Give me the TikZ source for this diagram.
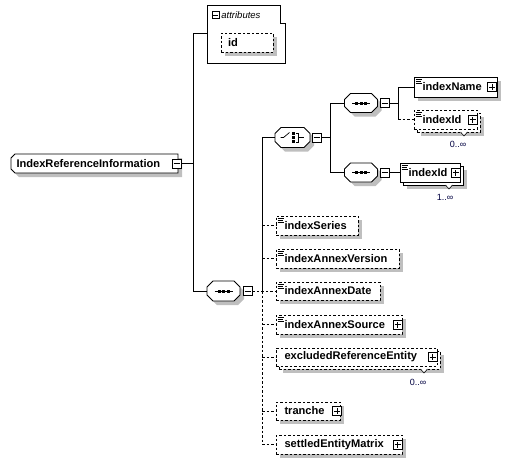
\documentclass[tikz,border=0pt]{standalone}
\usepackage{fontspec}
\setmainfont{Liberation Sans}
\usetikzlibrary{shadows}
\newcommand\XBox[6]{\node[box,#6,minimum width={#4-#2},minimum height={#5-#3}] (#1) at ({(#2+#4)/2},{(#3+#5)/2}) {};}
\newcommand\XOctPath[6]{(#1+#5,#2) -- (#3-#6,#2) -- (#3,#2+#6) -- (#3,#4-#6) -- (#3-#6,#4) -- (#1+#5,#4) -- (#1,#4-#5) -- (#1,#2+#5) -- cycle}
\newcommand\XOct[7]{%
  \fill[black!25,shift={(4,4)}] \XOctPath{#2}{#3}{#4}{#5}{#6}{#7};
  \filldraw[fill=white] \XOctPath{#2}{#3}{#4}{#5}{#6}{#7};
  \node[inner sep=0pt,minimum width={#4-#2},minimum height={#5-#3}] (#1) at ({(#2+#4)/2},{(#3+#5)/2}) {};}
\newcommand\XIcon[1]{\draw[line width=0.5pt] ([xshift=2pt,yshift=-2.5pt]#1.north west) -- ++(6,0) ([xshift=2pt,yshift=-4.5pt]#1.north west) -- ++(5,0) ([xshift=2pt,yshift=-6.5pt]#1.north west) -- ++(6,0);}
\newcommand\XPlus[3]{\node[pm] (#1) at (#2,#3) {}; \draw[line width=0.7pt] ([xshift=-3pt]#1.center) -- ([xshift=3pt]#1.center) ([yshift=-3pt]#1.center) -- ([yshift=3pt]#1.center);}
\newcommand\XMinus[3]{\node[pm] (#1) at (#2,#3) {}; \draw[line width=0.7pt] ([xshift=-3pt]#1.center) -- ([xshift=3pt]#1.center);}
\newcommand\XSeqIcon[1]{\draw[line width=0.7pt] ([xshift=-9pt]#1.center) -- ([xshift=9pt]#1.center);
  \foreach \dx in {-4.5,0,4.5} {\fill ([xshift=\dx pt]#1.center) +(-1.5,-1.5) rectangle +(1.5,1.5);}}
\newcommand\XVee[2]{\filldraw[fill=white,line width=0.6pt] (#1-3.5,#2) -- (#1,#2+4) -- (#1+3.5,#2);}
\begin{document}
\begin{tikzpicture}[x=1pt,y=-1pt,line width=0.8pt,
  shd/.style={drop shadow={shadow xshift=4pt,shadow yshift=-4pt,fill=black!25,opacity=1}},
  box/.style={draw,fill=white,inner sep=0pt},
  optl/.style={dash pattern=on 2.5pt off 2pt},
  lbl/.style={font=\fontsize{11.1}{13}\selectfont\bfseries,inner sep=0pt,anchor=west},
  occ/.style={font=\fontsize{9}{10}\selectfont,inner sep=0pt,text=black!75!blue},
  pm/.style={draw,fill=white,minimum size=9pt,inner sep=0pt,line width=0.8pt}]
\useasboundingbox (0,0) rectangle (510,464);
% root
\XOct{root}{11}{154}{178}{173}{4}{0}
\node[lbl] (root-t) at ([xshift=5.5pt]root.west) {IndexReferenceInformation};
\XMinus{rootm}{176.5}{163.5}
% attributes
\draw (207,5) -- (280,5) -- (280,23) -- (285,23) -- (285,63) -- (207,63) -- cycle;
\coordinate (attrL) at (207,33);
\node[pm,minimum size=7pt,line width=0.6pt] (attm) at (215.5,15) {};
\draw[line width=0.6pt] ([xshift=-2.5pt]attm.center) -- ([xshift=2.5pt]attm.center);
\node[font=\fontsize{9.5}{10}\selectfont\itshape,inner sep=0pt,anchor=west] (attr-t) at (221,15) {attributes};
\XBox{id}{221}{33}{273}{52}{shd,optl}
\node[lbl] (id-t) at ([xshift=7pt]id.west) {id};
% main bus
\coordinate (b1) at (193,33);
\draw (b1) -- (attrL);
\draw (rootm.east) -- (rootm.east -| b1);
% main sequence
\XOct{mseq}{207}{281}{240}{301}{6}{6}
\XSeqIcon{mseq}
\XMinus{mseqm}{247.5}{291}
\draw (b1) -- (mseq.west -| b1) -- (mseq.west);
% choice
\XOct{choice}{275}{127.5}{310}{147.5}{6}{6}
\XMinus{choicem}{316.5}{137.5}
\draw[line width=0.7pt] ([xshift=-12pt]choice.center) -- ([xshift=-9pt]choice.center) -- ([xshift=-3pt,yshift=5pt]choice.center);
\foreach \dy in {-4,0,4} {\fill ([yshift=\dy pt]choice.center) +(-0.3,-1.2) rectangle +(2.2,1.2);}
\draw[line width=0.7pt] ([xshift=3.5pt,yshift=4.5pt]choice.center) -- ([xshift=5.5pt,yshift=4.5pt]choice.center) -- ([xshift=5.5pt,yshift=-4.5pt]choice.center) -- ([xshift=3.5pt,yshift=-4.5pt]choice.center)
  ([xshift=5.5pt]choice.center) -- ([xshift=11pt]choice.center);
\coordinate (b2) at (262,137.5);
\draw (b2) -- (choice.west);
\draw (b2) -- (mseqm.east -| b2);
\coordinate (b3) at (330,103);
\draw (choicem.east) -- (choicem.east -| b3);
% seq1
\XOct{seq1}{344.5}{93.5}{377.5}{112.5}{6}{6}
\XSeqIcon{seq1}
\XMinus{seq1m}{384.5}{103}
\coordinate (b4) at (398,87);
% seq2
\XOct{seq2}{344.5}{163}{377.5}{182}{6}{6}
\XSeqIcon{seq2}
\XMinus{seq2m}{384.5}{172.5}
\draw (b3) -- (seq2.west -| b3);
\draw (b3) -- (seq1.west);
\draw (seq2.west -| b3) -- (seq2.west);
% indexName
\XBox{iname}{414}{77}{497}{97}{shd}
\XIcon{iname}
\node[lbl] (iname-t) at ([xshift=8.5pt]iname.west) {indexName};
\XPlus{inamep}{492}{87}
% indexId optional
\XBox{iid1b}{417}{113}{480}{132}{shd,optl}
\XBox{iid1}{414}{110}{477}{129}{optl}
\XIcon{iid1}
\node[lbl] (iid1-t) at ([xshift=8.5pt]iid1.west) {indexId};
\XPlus{iid1p}{472.5}{119.5}
\XVee{464}{132}
\node[occ] (iid1-o) at (458,144) {0..∞};
\draw (seq1m.east) -- (seq1m.east -| b4);
\draw (b4) -- (iid1.west -| b4);
\draw (b4) -- (iname.west);
\draw[optl] (iid1.west -| b4) -- (iid1.west);
% indexId required
\XBox{iid2b}{403}{166}{463}{185}{shd}
\XBox{iid2}{400}{163}{460}{182}{}
\XIcon{iid2}
\node[lbl] (iid2-t) at ([xshift=8.5pt]iid2.west) {indexId};
\XPlus{iid2p}{455.5}{172.5}
\XVee{449}{185}
\node[occ] (iid2-o) at (445,197) {1..∞};
\draw (seq2m.east) -- (iid2.west);
% children
\XBox{ser}{276}{216}{358}{235}{shd,optl}
\XIcon{ser}
\node[lbl] (ser-t) at ([xshift=8.5pt]ser.west) {indexSeries};
\XBox{ver}{276}{249}{399}{268}{shd,optl}
\XIcon{ver}
\node[lbl] (ver-t) at ([xshift=8.5pt]ver.west) {indexAnnexVersion};
\XBox{dat}{276}{282}{380}{300}{shd,optl}
\XIcon{dat}
\node[lbl] (dat-t) at ([xshift=8.5pt]dat.west) {indexAnnexDate};
\XBox{src}{276}{315}{402}{334}{shd,optl}
\XIcon{src}
\node[lbl] (src-t) at ([xshift=8.5pt]src.west) {indexAnnexSource};
\XPlus{srcp}{397.5}{324.5}
\XBox{exclb}{279}{351}{440}{369}{shd,optl}
\XBox{excl}{276}{348}{437}{366}{optl}
\node[lbl] (excl-t) at ([xshift=8.5pt]excl.west) {excludedReferenceEntity};
\XPlus{exclp}{432.5}{357}
\XVee{424}{369}
\node[occ] (excl-o) at (418,382) {0..∞};
\XBox{tra}{276}{402}{340}{420}{shd,optl}
\node[lbl] (tra-t) at ([xshift=8.5pt]tra.west) {tranche};
\XPlus{trap}{337}{411}
\XBox{sem}{276}{435}{402}{454}{shd,optl}
\node[lbl] (sem-t) at ([xshift=8.5pt]sem.west) {settledEntityMatrix};
\XPlus{semp}{397.5}{444.5}
% connectors to children
\draw[optl] (mseqm.east) -- (dat.west);
\draw[optl] (mseqm.east -| b2) -- (sem.west -| b2);
\foreach \c in {ser,ver,src,excl,tra,sem} {\draw[optl] (\c.west -| b2) -- (\c.west);}
\end{tikzpicture}
\end{document}
